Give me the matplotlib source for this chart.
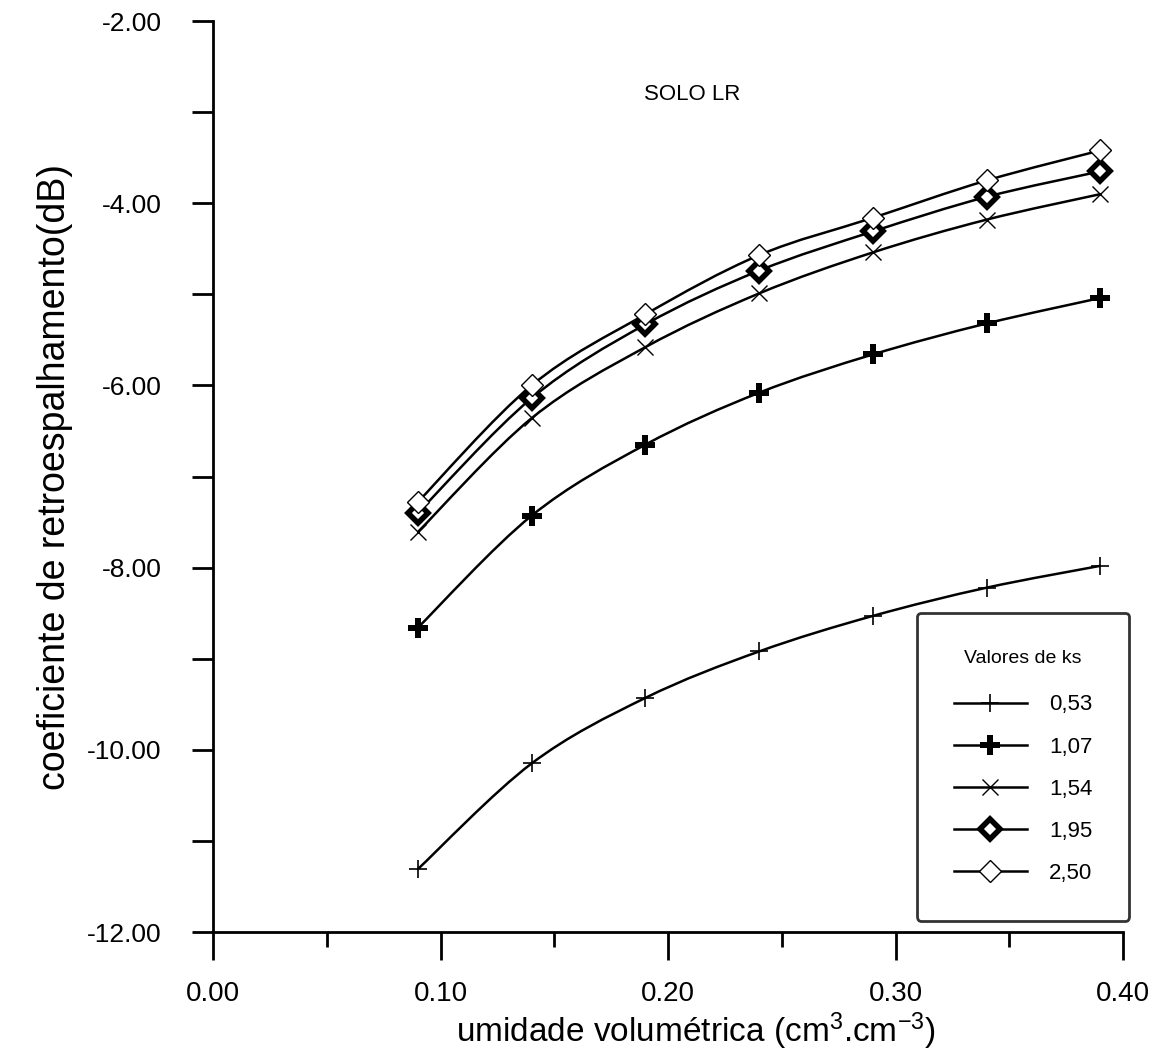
import matplotlib.pyplot as plt
from matplotlib.path import Path
from matplotlib.patches import PathPatch
from matplotlib.ticker import MultipleLocator, FormatStrFormatter

plt.rcParams['font.family'] = ['Liberation Sans', 'DejaVu Sans']
plt.rcParams['mathtext.default'] = 'regular'

# umidade volumetrica (cm3.cm-3)
umidade = [0.09, 0.14, 0.19, 0.24, 0.29, 0.34, 0.39]

# coeficiente de retroespalhamento (dB) para cada valor de ks
ks_labels = ['0,53', '1,07', '1,54', '1,95', '2,50']
ks_053 = [-11.31, -10.15, -9.43, -8.92, -8.53, -8.22, -7.98]
ks_107 = [-8.66, -7.43, -6.65, -6.08, -5.66, -5.32, -5.04]
ks_154 = [-7.61, -6.36, -5.58, -4.99, -4.54, -4.18, -3.90]
ks_195 = [-7.40, -6.14, -5.33, -4.74, -4.31, -3.93, -3.65]
ks_250 = [-7.28, -6.00, -5.22, -4.57, -4.16, -3.75, -3.42]


def spline_path(xs, ys):
    # catmull-rom through the points, drawn as bezier segments
    verts = [(xs[0], ys[0])]
    codes = [Path.MOVETO]
    n = len(xs)
    for i in range(n - 1):
        x0, y0 = (xs[i - 1], ys[i - 1]) if i > 0 else (xs[i], ys[i])
        x1, y1 = xs[i], ys[i]
        x2, y2 = xs[i + 1], ys[i + 1]
        x3, y3 = (xs[i + 2], ys[i + 2]) if i + 2 < n else (x2, y2)
        verts += [(x1 + (x2 - x0) / 6, y1 + (y2 - y0) / 6),
                  (x2 - (x3 - x1) / 6, y2 - (y3 - y1) / 6),
                  (x2, y2)]
        codes += [Path.CURVE4] * 3
    return Path(verts, codes)


fig = plt.figure(figsize=(11.66, 10.51), dpi=100)
ax = fig.add_axes([0.1827, 0.1132, 0.7806, 0.8668])

lw = 1.8
series = [ks_053, ks_107, ks_154, ks_195, ks_250]
styles = [dict(marker='+', ms=13, mew=1.2),
          dict(marker='P', ms=15, mew=0),
          dict(marker='x', ms=12, mew=1.0),
          dict(marker='D', ms=10, mew=4.0, mfc='white', mec='black'),
          dict(marker='D', ms=11, mew=1.0, mfc='white', mec='black')]

for ys, st, lab in zip(series, styles, ks_labels):
    ax.add_patch(PathPatch(spline_path(umidade, ys), fill=False,
                           edgecolor='black', lw=lw))
    ax.plot(umidade, ys, color='black', lw=lw, ls='none', **st)
    # legend handle with line + marker
    ax.plot([], [], color='black', lw=lw, label=lab, **st)

ax.set_xlim(0.0, 0.40)
ax.set_ylim(-12.0, -2.0)

ax.xaxis.set_major_locator(MultipleLocator(0.10))
ax.xaxis.set_minor_locator(MultipleLocator(0.05))
ax.yaxis.set_major_locator(MultipleLocator(2.0))
ax.yaxis.set_minor_locator(MultipleLocator(1.0))
ax.xaxis.set_major_formatter(FormatStrFormatter('%.2f'))
ax.yaxis.set_major_formatter(FormatStrFormatter('%.2f'))

for s in ['top', 'right']:
    ax.spines[s].set_visible(False)
for s in ['left', 'bottom']:
    ax.spines[s].set_linewidth(2)

ax.tick_params(axis='x', which='major', direction='out', length=20, width=2,
               pad=15, labelsize=20)
ax.tick_params(axis='x', which='minor', direction='out', length=11, width=2)
ax.tick_params(axis='y', which='major', direction='out', length=15, width=2,
               pad=22, labelsize=19)
ax.tick_params(axis='y', which='minor', direction='out', length=15, width=2)

ax.set_xlabel('umidade volumétrica (cm$^3$.cm$^{-3}$)', fontsize=24)
ax.xaxis.set_label_coords(0.53, -0.086)
ax.set_ylabel('coeficiente de retroespalhamento(dB)', fontsize=27, labelpad=10)

ax.text(0.2105, -2.81, 'SOLO LR', fontsize=16, ha='center', va='center')

leg = ax.legend(title='Valores de ks', loc='upper left',
                bbox_to_anchor=(917 / 1166, 1 - 613 / 1051),
                bbox_transform=fig.transFigure,
                fontsize=16, title_fontsize=14, frameon=True, fancybox=True,
                edgecolor='black', handlelength=3.3, labelspacing=0.95,
                borderpad=1.65, handletextpad=1.0, borderaxespad=0)
leg.get_frame().set_linewidth(2)
leg._legend_box.sep = 20

fig.savefig('out.png', dpi=100)
